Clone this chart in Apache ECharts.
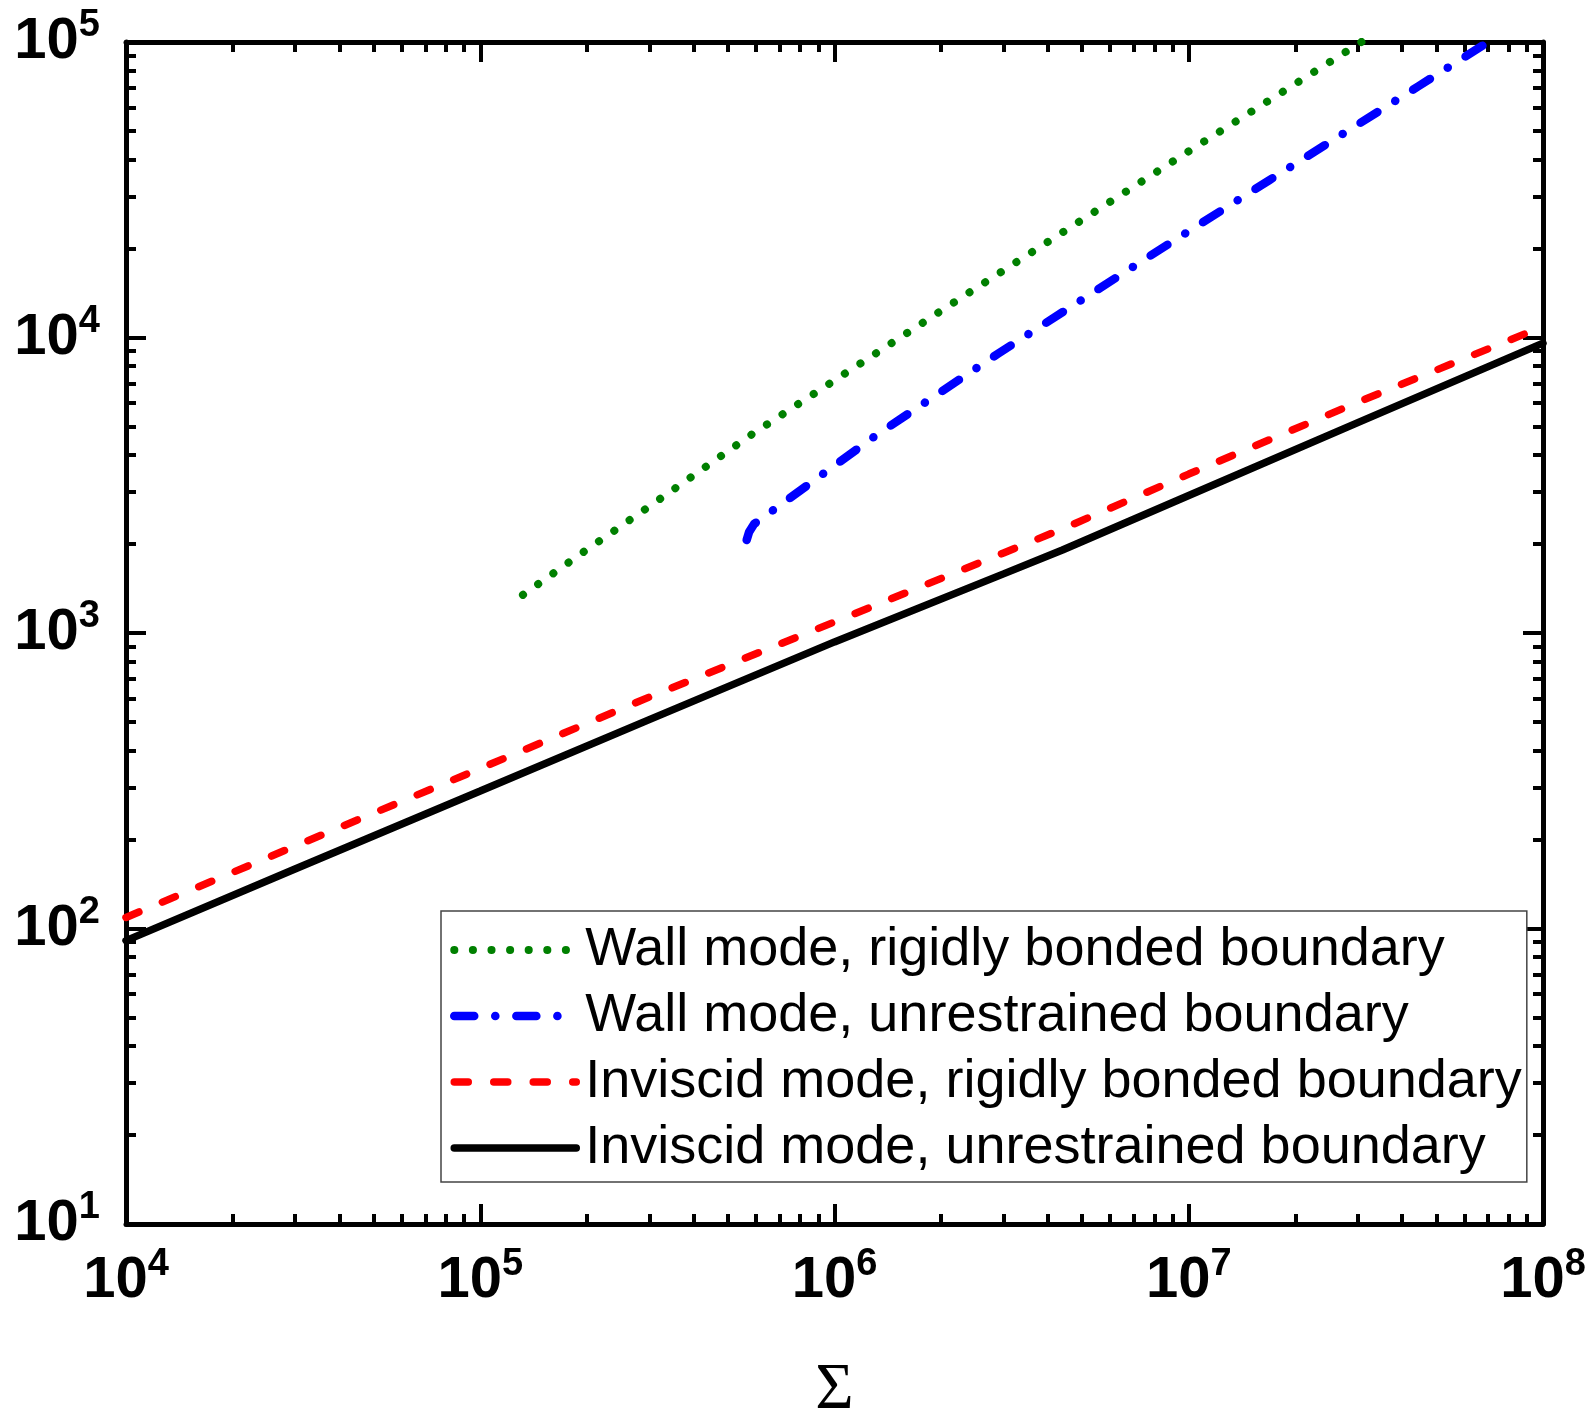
<!DOCTYPE html>
<html>
<head>
<meta charset="utf-8">
<script src="https://cdn.jsdelivr.net/npm/echarts@6/dist/echarts.min.js"></script>
<style>
  html, body { margin: 0; padding: 0; background: #fff; }
  #chart { width: 1592px; height: 1413px; }
</style>
</head>
<body>
<div id="chart"></div>
<script>
// Σ sample points shared by the two inviscid-mode curves
const sigmaInviscid = [1e4, 3e4, 1e5, 3e5, 1e6, 3e6, 4.4e6, 1e7, 3e7, 1e8];
const inviscidRigid = [109, 190, 348, 607, 1090, 1866, 2250, 3450, 6040, 10900];
const inviscidFree  = [91, 159, 292, 509, 933, 1585, 1910, 2920, 5150, 9570];

// Wall mode, rigidly bonded boundary
const sigmaWallRigid = [1.32e5, 2e5, 3e5, 5.9e5, 1e6, 2.17e6, 4.25e6, 1e7, 3.1e7];
const wallRigid      = [1346, 1915, 2680, 4740, 7160, 13130, 22080, 42700, 100700];

// Wall mode, unrestrained boundary (curve turns back at its lower end)
const sigmaWallFree = [5.65e5, 5.74e5, 5.93e5, 6.61e5, 1.315e6, 2.9e6, 7.59e6, 1e7, 1.69e7, 4.46e7, 7.1e7];
const wallFree      = [2064, 2198, 2339, 2570, 4680, 8830, 18540, 22900, 34100, 70960, 101000];

const seriesNames = [
  'Wall mode, rigidly bonded boundary',
  'Wall mode, unrestrained boundary',
  'Inviscid mode, rigidly bonded boundary',
  'Inviscid mode, unrestrained boundary'
];

const pairs = (xs, ys) => xs.map((x, i) => [x, ys[i]]);
const powLabel = v => '{b|10}{s|' + Math.round(Math.log10(v)) + '}';

const labelRich = {
  b: { fontFamily: 'Liberation Sans', fontWeight: 'bold', fontSize: 58, color: '#000', padding: [6, 0, 6, 0] },
  s: { fontFamily: 'Liberation Sans', fontWeight: 'bold', fontSize: 38, color: '#000', verticalAlign: 'top' }
};

const axisLine = { show: true, onZero: false, lineStyle: { color: '#000', width: 5 } };
const majorTick = { show: true, inside: true, length: 20, lineStyle: { color: '#000', width: 4 } };
const minorTick = { show: true, splitNumber: 9, length: 10, lineStyle: { color: '#000', width: 4 } };

function logAxis(min, max, position, withLabels, extra) {
  return Object.assign({
    type: 'log', logBase: 10, min: min, max: max, position: position,
    axisLine: axisLine, axisTick: majorTick, minorTick: minorTick,
    splitLine: { show: false }, minorSplitLine: { show: false },
    axisLabel: withLabels ? {
      show: true, formatter: powLabel, rich: labelRich,
      showMinLabel: true, showMaxLabel: true
    } : { show: false }
  }, extra || {});
}

const chart = echarts.init(document.getElementById('chart'), null, { renderer: 'canvas', width: 1592, height: 1413 });

chart.setOption({
  animation: false,
  backgroundColor: '#fff',
  grid: { left: 126, right: 49, top: 42, bottom: 189, outerBoundsMode: 'none' },
  xAxis: [
    logAxis(1e4, 1e8, 'bottom', true, {
      axisLabel: { show: true, formatter: powLabel, rich: labelRich, margin: 22, showMinLabel: true, showMaxLabel: true },
      name: 'Σ', nameLocation: 'middle', nameGap: 134,
      nameTextStyle: { fontFamily: 'Liberation Serif', fontSize: 66, color: '#000' }
    }),
    logAxis(1e4, 1e8, 'top', false)
  ],
  yAxis: [
    logAxis(10, 1e5, 'left', true, {
      axisLabel: { show: true, formatter: powLabel, rich: labelRich, margin: 26, showMinLabel: true, showMaxLabel: true }
    }),
    logAxis(10, 1e5, 'right', false)
  ],
  legend: {
    orient: 'vertical', left: 441, top: 911,
    padding: [6, 5, 1, 9], itemGap: 0, itemWidth: 122, itemHeight: 20,
    borderColor: '#444', borderWidth: 1.5, backgroundColor: '#fff',
    selectedMode: false,
    textStyle: { fontFamily: 'Liberation Sans', fontSize: 54, color: '#000', lineHeight: 66, padding: [0, 0, 0, 4] },
    itemStyle: { opacity: 0 },
    lineStyle: { width: 'inherit' },
    data: seriesNames
  },
  series: [
    {
      name: seriesNames[0], type: 'line', symbol: 'none',
      data: pairs(sigmaWallRigid, wallRigid),
      itemStyle: { color: '#008000' },
      lineStyle: { color: '#008000', width: 8, type: [0.1, 18.5], cap: 'round' }
    },
    {
      name: seriesNames[1], type: 'line', symbol: 'none',
      data: pairs(sigmaWallFree, wallFree),
      itemStyle: { color: '#0000ff' },
      lineStyle: { color: '#0000ff', width: 8.5, type: [20, 21, 0.1, 21], cap: 'round', join: 'round' }
    },
    {
      name: seriesNames[2], type: 'line', symbol: 'none',
      data: pairs(sigmaInviscid, inviscidRigid),
      itemStyle: { color: '#ff0000' },
      lineStyle: { color: '#ff0000', width: 7.5, type: [14, 25.5], cap: 'round' }
    },
    {
      name: seriesNames[3], type: 'line', symbol: 'none',
      data: pairs(sigmaInviscid, inviscidFree),
      itemStyle: { color: '#000' },
      lineStyle: { color: '#000', width: 7.5, type: 'solid', cap: 'round' }
    }
  ]
});
</script>
</body>
</html>
